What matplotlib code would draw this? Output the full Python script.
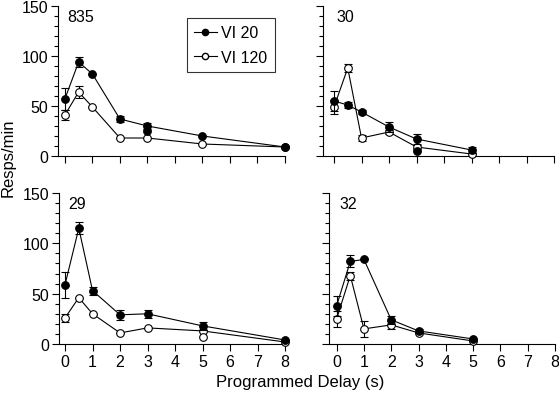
import matplotlib
matplotlib.use("Agg")
import matplotlib.pyplot as plt
from matplotlib.ticker import MultipleLocator
from matplotlib.lines import Line2D

plt.rcParams['font.family'] = ['Liberation Sans', 'DejaVu Sans']

# Programmed delays (s)
delays_long = [0, 0.5, 1, 2, 3, 5, 8]
delays_short = [0, 0.5, 1, 2, 3, 5]

# Subject 835
s835_vi20 = [57, 94, 82, 37, 30, 20, 9]
s835_vi20_err = [11, 5, 0, 3, 3, 0, 0]
s835_vi120 = [41, 64, 49, 18, 18, 12, 9]
s835_vi120_err = [5, 6, 0, 0, 0, 0, 0]
s835_extra_vi20_x = [3]
s835_extra_vi20_y = [25]

# Subject 30
s30_vi20 = [55, 51, 44, 29, 17, 6]
s30_vi20_err = [10, 3, 2, 5, 5, 3]
s30_vi120 = [49, 88, 18, 24, 9, 2]
s30_vi120_err = [7, 4, 3, 2, 2, 0]
s30_extra_vi20_x = [3]
s30_extra_vi20_y = [5]

# Subject 29
s29_vi20 = [59, 115, 53, 29, 30, 18, 4]
s29_vi20_err = [13, 6, 4, 5, 4, 4, 0]
s29_vi120 = [26, 46, 30, 11, 16, 13, 2]
s29_vi120_err = [4, 0, 0, 0, 0, 0, 0]
s29_extra_vi120_x = [5]
s29_extra_vi120_y = [7]

# Subject 32
s32_vi20 = [38, 82, 84, 24, 13, 5]
s32_vi20_err = [10, 6, 0, 4, 2, 0]
s32_vi120 = [25, 68, 15, 19, 11, 3]
s32_vi120_err = [8, 4, 8, 4, 0, 0]

W, H = 559, 402


def px_axes(fig, left, right, top, bottom):
    return fig.add_axes([left / W, 1 - bottom / H, (right - left) / W, (bottom - top) / H])


def draw_panel(ax, label, x, vi20, vi20_err, vi120, vi120_err, extras, xmin, show_x_labels, show_y_labels):
    ax.errorbar(x, vi120, yerr=vi120_err, color='black', lw=0.8, marker='o', ms=5.5,
                mfc='white', mec='black', mew=0.8, capsize=3, elinewidth=0.8, clip_on=False, zorder=3)
    ax.errorbar(x, vi20, yerr=vi20_err, color='black', lw=0.8, marker='o', ms=5.5,
                mfc='black', mec='black', mew=0.8, capsize=3, elinewidth=0.8, clip_on=False, zorder=4)
    for ex, ey, filled in extras:
        ax.plot(ex, ey, 'o', ms=5.5, mfc='black' if filled else 'white', mec='black',
                mew=0.8, clip_on=False, zorder=5)
    ax.set_xlim(xmin, 8)
    ax.set_ylim(0, 150)
    ax.xaxis.set_major_locator(MultipleLocator(1))
    ax.yaxis.set_major_locator(MultipleLocator(50))
    ax.yaxis.set_minor_locator(MultipleLocator(10))
    for side in ['top', 'right']:
        ax.spines[side].set_visible(False)
    for side in ['left', 'bottom']:
        ax.spines[side].set_linewidth(0.8)
    ax.tick_params(which='major', direction='out', length=5, width=0.8, labelsize=11.5, pad=2)
    ax.tick_params(which='minor', direction='out', length=3, width=0.8)
    ax.tick_params(axis='x', labelbottom=show_x_labels)
    ax.tick_params(axis='y', labelleft=show_y_labels)
    ax.text(0.1, 147, label, fontsize=11.5, va='top', ha='left')


fig = plt.figure(figsize=(W / 100, H / 100), dpi=100)

ax_tl = px_axes(fig, 58, 285, 7, 157)
draw_panel(ax_tl, '835', delays_long, s835_vi20, s835_vi20_err, s835_vi120, s835_vi120_err,
           [(s835_extra_vi20_x, s835_extra_vi20_y, True)], -0.25, False, True)

ax_tr = px_axes(fig, 323, 554, 7, 157)
draw_panel(ax_tr, '30', delays_short, s30_vi20, s30_vi20_err, s30_vi120, s30_vi120_err,
           [(s30_extra_vi20_x, s30_extra_vi20_y, True)], -0.4, False, False)

ax_bl = px_axes(fig, 59, 285, 194, 345)
draw_panel(ax_bl, '29', delays_long, s29_vi20, s29_vi20_err, s29_vi120, s29_vi120_err,
           [(s29_extra_vi120_x, s29_extra_vi120_y, False)], -0.22, True, True)

ax_br = px_axes(fig, 329, 555, 194, 345)
draw_panel(ax_br, '32', delays_short, s32_vi20, s32_vi20_err, s32_vi120, s32_vi120_err,
           [], -0.28, True, False)

handles = [
    Line2D([], [], color='black', lw=0.8, marker='o', ms=4.5, mfc='black', mec='black'),
    Line2D([], [], color='black', lw=0.8, marker='o', ms=4.5, mfc='white', mec='black'),
]
fig.legend(handles, ['VI 20', 'VI 120'], loc='upper left',
           bbox_to_anchor=(187 / W, 1 - 19 / H), fontsize=11.5, frameon=True, fancybox=False,
           edgecolor='black', handlelength=1.4, handletextpad=0.3, borderpad=0.45,
           labelspacing=0.6, borderaxespad=0)
fig.legends[0].get_frame().set_linewidth(0.8)

fig.text(8 / W, 1 - 158 / H, 'Resps/min', rotation=90, ha='center', va='center', fontsize=12)
fig.text(300 / W, 1 - 383 / H, 'Programmed Delay (s)', ha='center', va='center', fontsize=12)

fig.savefig('out.png', dpi=100)
